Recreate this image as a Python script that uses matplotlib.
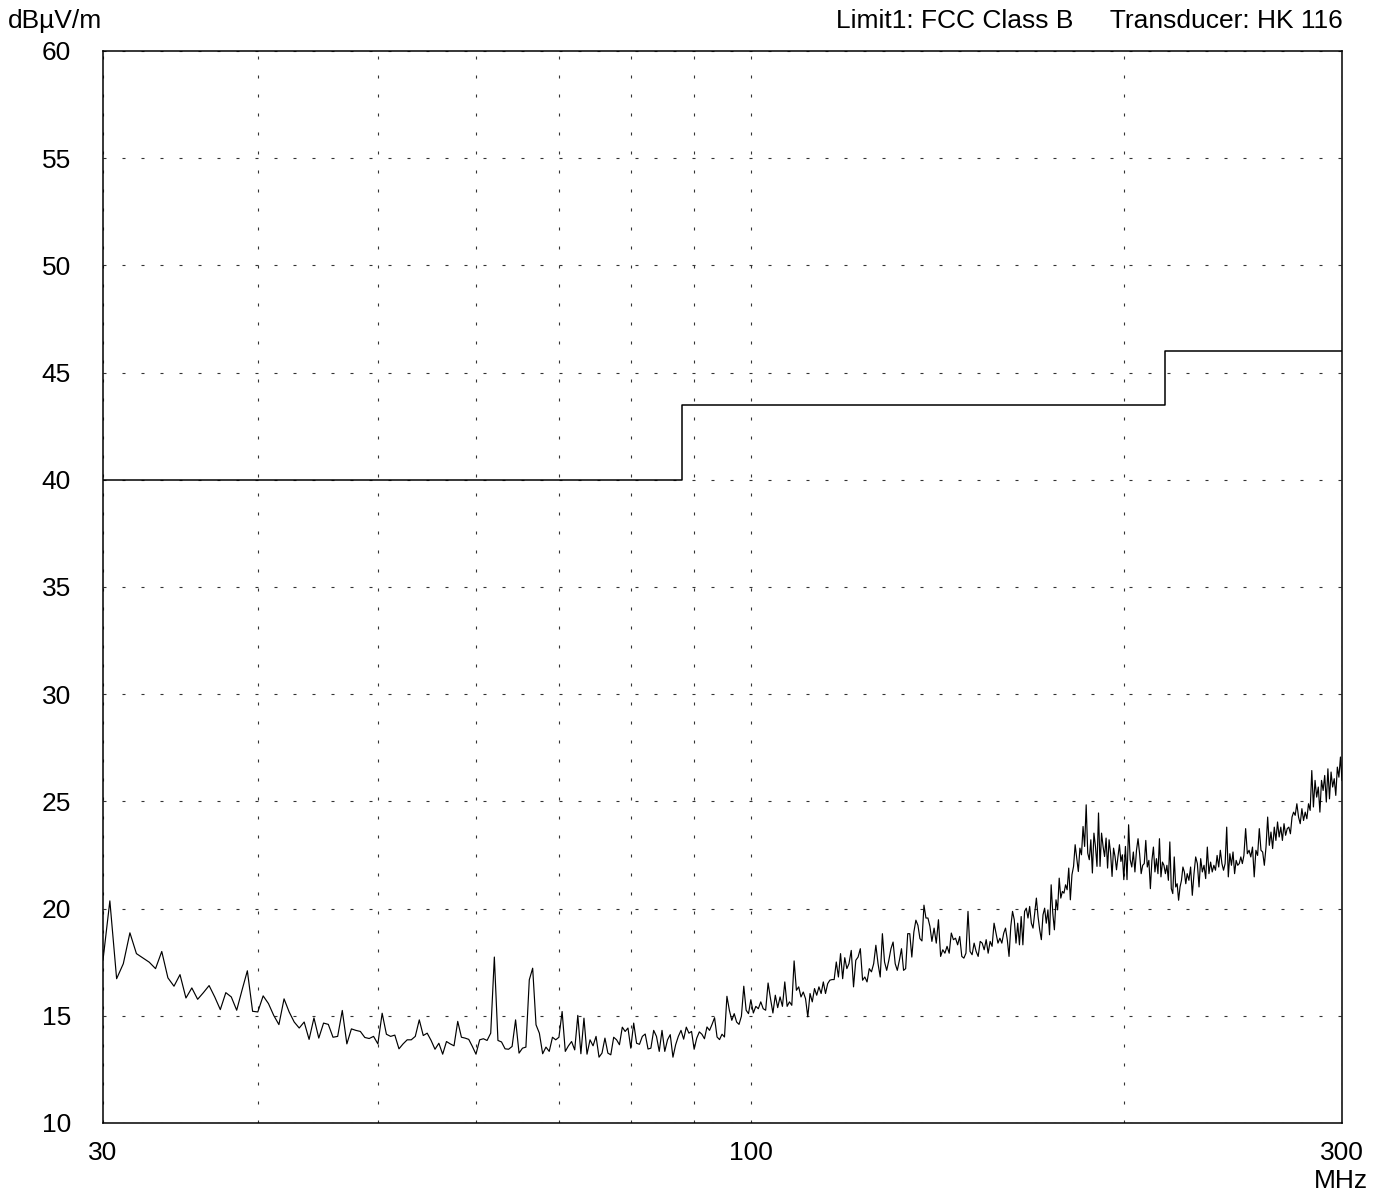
import numpy as np
import matplotlib
matplotlib.use("Agg")
import matplotlib.pyplot as plt
from matplotlib.ticker import FixedLocator, NullFormatter, FixedFormatter

plt.rcParams['font.family'] = ['Liberation Sans', 'DejaVu Sans']

# ---------------- data ----------------
# FCC Class B limit (dBuV/m)
limit_freq_mhz = [30, 88, 216, 300]
limit_level_dbuv = [40.0, 43.5, 46.0, 46.0]

segment_edges_mhz = [30, 40, 50, 60, 70, 80, 90, 100, 120, 140, 160, 180,
                     200, 225, 250, 275, 300]

trace_30_40 = [17.6, 20.36, 16.73, 17.43, 18.87, 17.9, 17.7, 17.5, 17.2, 18.0,
               16.77, 16.38, 16.92, 15.83, 16.3, 15.77, 16.08, 16.41, 15.88, 15.29,
               16.08, 15.88, 15.26, 16.2, 17.1, 15.21]
trace_40_50 = [15.18, 15.93, 15.57, 15.02, 14.59, 15.79, 15.18, 14.71, 14.43, 14.71,
               13.9, 14.9, 13.96, 14.66, 14.6, 14.0, 14.04, 15.25, 13.69, 14.39,
               14.32, 14.27, 13.99, 13.94, 14.04]
trace_50_60 = [13.69, 15.12, 14.14, 14.04, 14.1, 13.46, 13.69, 13.88, 13.88, 14.04,
               14.81, 14.08, 14.19, 13.85, 13.44, 13.72, 13.21, 13.8, 13.69, 13.6,
               14.74, 14.0, 13.96, 13.9, 13.57]
trace_60_70 = [13.21, 13.88, 13.93, 13.85, 14.19, 17.74, 13.85, 13.78, 13.46, 13.44,
               13.57, 14.81, 13.26, 13.49, 13.54, 16.68, 17.22, 14.58, 14.19, 13.23,
               13.54, 13.34, 14.0, 13.88]
trace_70_80 = [14.0, 15.2, 13.34, 13.6, 13.8, 13.41, 15.02, 13.23, 14.89, 13.21,
               13.88, 13.6, 14.04, 13.07, 13.26, 13.96, 13.26, 13.18, 14.0, 13.88,
               13.65, 14.47, 14.27, 14.43]
trace_80_90 = [13.49, 14.66, 13.72, 13.67, 14.04, 14.15, 13.45, 13.49, 14.32, 14.04,
               13.34, 14.32, 13.34, 13.88, 14.12, 13.07, 13.65, 14.04, 14.32, 13.91,
               14.47, 14.19, 14.27]
trace_90_100 = [13.44, 13.96, 14.25, 14.14, 13.93, 14.48, 14.32, 14.6, 14.91, 14.01,
                13.89, 14.14, 14.01, 15.91, 15.26, 14.79, 15.1, 14.71, 14.6, 14.98,
                16.38, 15.26, 15.1]
trace_100_120 = [15.75, 15.13, 15.44, 15.33, 15.65, 15.33, 15.26, 16.53, 15.8, 15.13,
                 15.96, 15.38, 15.88, 15.44, 16.58, 15.44, 15.65, 15.49, 17.56, 16.19,
                 16.35, 15.88, 16.11, 15.8, 14.95, 16.04, 15.65, 16.27, 15.96, 16.35,
                 16.04, 16.58, 16.04, 16.5, 16.66, 16.69, 16.69, 17.51, 16.81, 17.9,
                 16.73, 17.71, 17.2]
trace_120_140 = [17.43, 18.05, 16.35, 17.59, 17.74, 18.13, 16.66, 16.81, 16.58, 17.2,
                 17.05, 17.43, 18.29, 17.43, 16.81, 18.83, 17.51, 17.12, 17.59, 18.13,
                 18.44, 17.43, 17.12, 17.59, 18.13, 17.12, 17.2, 18.83, 18.83, 17.74,
                 18.91, 19.46, 19.22, 18.6, 18.49, 20.16, 19.56, 19.56, 19.17]
trace_140_160 = [18.47, 19.09, 18.39, 19.48, 17.77, 18.08, 17.92, 18.24, 17.92, 18.86,
                 18.55, 18.62, 18.31, 18.7, 17.77, 17.69, 17.92, 19.87, 18.0, 17.85,
                 18.39, 18.0, 17.77, 18.47, 18.39, 18.08, 18.55, 17.92, 18.47, 18.24,
                 19.32, 18.86, 18.39, 18.62, 18.39]
trace_160_180 = [18.86, 19.09, 18.55, 17.77, 19.17, 19.87, 19.48, 18.39, 19.32, 18.31,
                 19.63, 18.31, 19.87, 20.02, 19.56, 20.1, 19.32, 19.09, 19.79, 20.49,
                 19.63, 19.01, 18.55, 19.71, 20.02, 19.32, 19.94, 18.78, 21.11, 19.79,
                 19.01, 20.41, 19.94, 21.42, 20.49, 20.8, 20.72, 21.11]
trace_180_200 = [20.88, 21.89, 20.41, 21.58, 21.97, 22.98, 22.36, 21.73, 22.82, 22.51,
                 23.83, 22.9, 24.84, 22.59, 22.28, 23.21, 21.66, 23.52, 22.9, 21.97,
                 24.46, 21.97, 23.52, 22.9, 22.43, 23.29, 21.89, 23.21, 22.59, 21.5,
                 22.82, 22.43, 21.81, 22.43, 22.98, 22.2, 22.51]
trace_200_225 = [21.35, 22.9, 21.35, 23.91, 22.28, 21.94, 22.64, 21.71, 22.72, 23.26,
                 22.56, 21.63, 22.02, 22.1, 23.18, 21.94, 22.25, 20.93, 22.25, 22.87,
                 21.71, 22.33, 21.63, 23.26, 21.48, 22.17, 22.02, 21.63, 22.02, 21.32,
                 23.11, 20.93, 20.7, 22.41, 21.01, 21.16, 20.39, 21.01, 21.32, 21.94,
                 21.71, 21.16]
trace_225_250 = [21.63, 21.32, 21.94, 20.62, 21.63, 22.41, 22.1, 21.01, 22.33, 21.71,
                 22.02, 21.4, 22.87, 21.63, 22.17, 21.71, 22.02, 21.79, 22.48, 21.94,
                 22.72, 22.1, 21.79, 22.1, 23.8, 21.48, 22.56, 22.02, 22.64, 21.63,
                 22.25, 22.02, 22.1, 22.41, 22.1]
trace_250_275 = [22.48, 23.73, 22.56, 22.72, 22.41, 22.87, 21.48, 22.72, 22.48, 23.73,
                 22.72, 22.64, 22.02, 22.87, 24.27, 22.95, 23.57, 22.8, 23.8, 23.18,
                 24.04, 23.34, 23.8, 23.18, 23.96, 23.42, 23.73, 23.8, 23.49, 24.27,
                 24.5]
trace_275_300 = [24.35, 24.89, 24.27, 23.96, 24.66, 24.11, 24.5, 24.19, 24.89, 24.58,
                 26.44, 24.74, 25.98, 25.2, 25.67, 24.5, 25.98, 25.51, 26.21, 24.97,
                 26.52, 25.12, 26.37, 25.67, 26.06, 25.28, 26.6, 26.13, 27.07, 25.98]

trace_segments = [trace_30_40, trace_40_50, trace_50_60, trace_60_70, trace_70_80,
                  trace_80_90, trace_90_100, trace_100_120, trace_120_140,
                  trace_140_160, trace_160_180, trace_180_200, trace_200_225,
                  trace_225_250, trace_250_275, trace_275_300]

y_ticks = [10, 15, 20, 25, 30, 35, 40, 45, 50, 55, 60]
x_major_ticks = [30, 100, 300]
x_major_labels = ["30", "100", "300"]
x_minor_ticks = [40, 50, 60, 70, 80, 90, 200]

# ---------------- assemble trace ----------------
freqs, levels = [], []
n_seg = len(trace_segments)
for k, seg in enumerate(trace_segments):
    f0, f1 = segment_edges_mhz[k], segment_edges_mhz[k + 1]
    last = (k == n_seg - 1)
    freqs.append(np.linspace(f0, f1, len(seg), endpoint=last))
    levels.append(np.asarray(seg, dtype=float))
freqs = np.concatenate(freqs)
levels = np.concatenate(levels)

# ---------------- figure ----------------
W, H = 1386, 1194
fig = plt.figure(figsize=(W / 100, H / 100), dpi=100)
L, R, T, B = 103, 1342, 51, 1123
ax = fig.add_axes([L / W, 1 - B / H, (R - L) / W, (B - T) / H])

ax.set_xscale('log')
ax.set_xlim(30, 300)
ax.set_ylim(10, 60)

grid_kw = dict(color='#333333', linewidth=0.8, linestyle=(0, (2.7, 14.4)))
ax.xaxis.set_major_locator(FixedLocator(x_major_ticks))
ax.xaxis.set_major_formatter(FixedFormatter(x_major_labels))
ax.xaxis.set_minor_locator(FixedLocator(x_minor_ticks))
ax.xaxis.set_minor_formatter(NullFormatter())
ax.yaxis.set_major_locator(FixedLocator(y_ticks))
ax.set_yticklabels([str(v) for v in y_ticks])
ax.grid(True, which='both', axis='x', **grid_kw)
ax.grid(True, which='major', axis='y', **grid_kw)

ax.tick_params(axis='both', which='both', length=0, labelsize=19, colors='black')
ax.tick_params(axis='y', pad=23)
ax.tick_params(axis='x', pad=13)

for s in ax.spines.values():
    s.set_linewidth(1.1)
    s.set_color('black')

ax.step(limit_freq_mhz, limit_level_dbuv, where='post', color='black', linewidth=1.1)
ax.plot(freqs, levels, color='black', linewidth=0.85)

fig.text(8 / W, 1 - 21 / H, "dBµV/m", fontsize=19, ha='left', va='center')
fig.text(1343 / W, 1 - 21 / H, "Limit1: FCC Class B     Transducer: HK 116",
         fontsize=19, ha='right', va='center')
fig.text(1341 / W, 1 - 1181 / H, "MHz", fontsize=19, ha='center', va='center')

fig.savefig("out.png", dpi=100)
